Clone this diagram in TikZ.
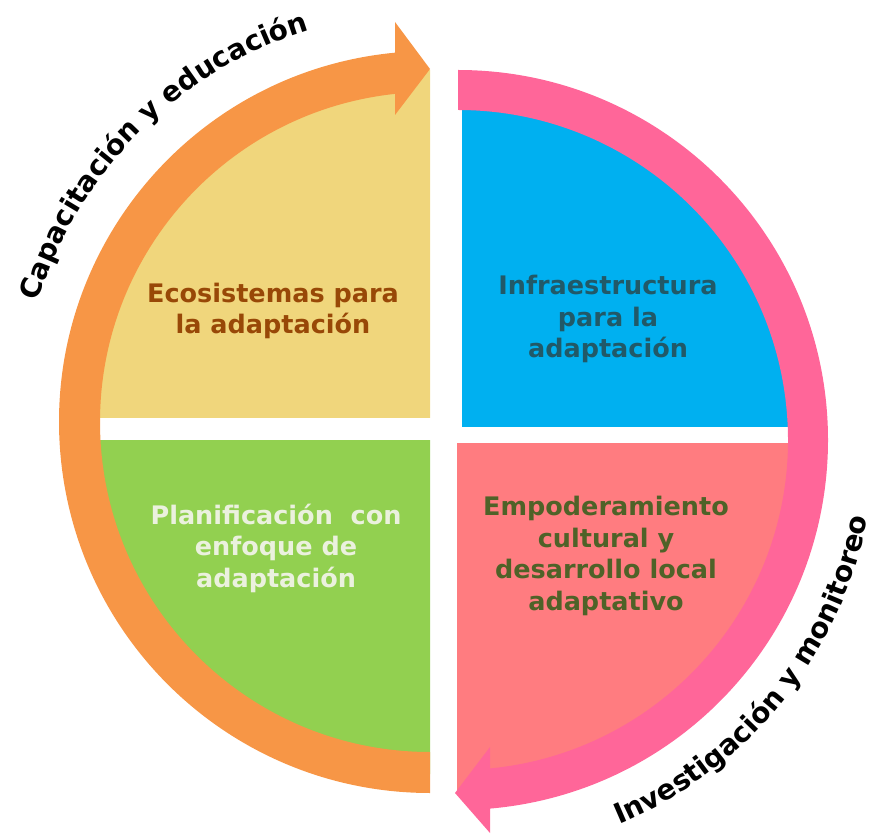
\documentclass[tikz,border=0pt]{standalone}
\usepackage{fontspec}
\usetikzlibrary{calc,decorations.text}
\newfontfamily\dejavu{DejaVu Sans}
\definecolor{bandorange}{HTML}{F79646}
\definecolor{bandpink}{HTML}{FF6699}
\definecolor{ecoyellow}{HTML}{F0D67C}
\definecolor{infblue}{HTML}{00B0F0}
\definecolor{plangreen}{HTML}{92D050}
\definecolor{empsalmon}{HTML}{FF7C80}
\definecolor{ecotext}{HTML}{984807}
\definecolor{inftext}{HTML}{215968}
\definecolor{plantext}{HTML}{EBF1DE}
\definecolor{emptext}{HTML}{4F6228}
\newcommand{\quadfont}{\dejavu\bfseries\fontsize{25.5}{31.5}\selectfont}
\newcommand{\ringfont}{\dejavu\bfseries\fontsize{28}{34}\selectfont}

\begin{document}
\begin{tikzpicture}[x=1pt,y=1pt,
  quad/.style={align=center,font=\quadfont},
  ringlabel/.style={decorate,decoration={text along path,text align=center,text={|\ringfont|#1}}}]
  \useasboundingbox (0,0) rectangle (877,836);
  \coordinate (L) at (430,414);
  \coordinate (R) at (458,396);
  % the four quarters
  \begin{scope}
    \clip (40,418) rectangle (430,836);
    \fill[ecoyellow] (L) circle[radius=352];
  \end{scope}
  \begin{scope}
    \clip (40,0) rectangle (430,395);
    \fill[plangreen] (L) circle[radius=352];
  \end{scope}
  \begin{scope}
    \clip (462,409) rectangle (877,836);
    \fill[infblue] (R) circle[radius=350];
  \end{scope}
  \begin{scope}
    \clip (457,0) rectangle (877,393);
    \fill[empsalmon] (R) circle[radius=350];
  \end{scope}
  % the two arrows
  \fill[bandorange] ($(L)+(95.4:371)$) arc[start angle=95.4,end angle=270,radius=371]
    -- ($(L)+(270:330)$) arc[start angle=270,end angle=95.4,radius=330] -- cycle;
  \fill[bandorange] (395,814) -- (430,767) -- (395,721) -- cycle;
  \fill[bandpink] ($(R)+(90:370)$) arc[start angle=90,end angle=-85.1,radius=370]
    -- ($(R)+(-85.1:330)$) arc[start angle=-85.1,end angle=90,radius=330] -- cycle;
  \fill[bandpink] (490,89) -- (455,43) -- (490,3) -- cycle;
  % labels
  \node[quad,text=ecotext] (eco) at (273,525) {Ecosistemas para\\la adaptación};
  \node[quad,text=inftext] (infra) at (608,517) {Infraestructura\\para la\\adaptación};
  \node[quad,text=plantext] (plan) at (276,288) {Planificación\ \ con\\enfoque de\\adaptación};
  \node[quad,text=emptext] (empo) at (606,280) {Empoderamiento\\cultural y\\desarrollo local\\adaptativo};
  \path[ringlabel={Capacitación y educación}] (L) ++(170:410) arc[start angle=170,end angle=100,radius=410];
  \path[ringlabel={Investigación y monitoreo}] (R) ++(-81:417) arc[start angle=-81,end angle=3,radius=417];
\end{tikzpicture}
\end{document}
